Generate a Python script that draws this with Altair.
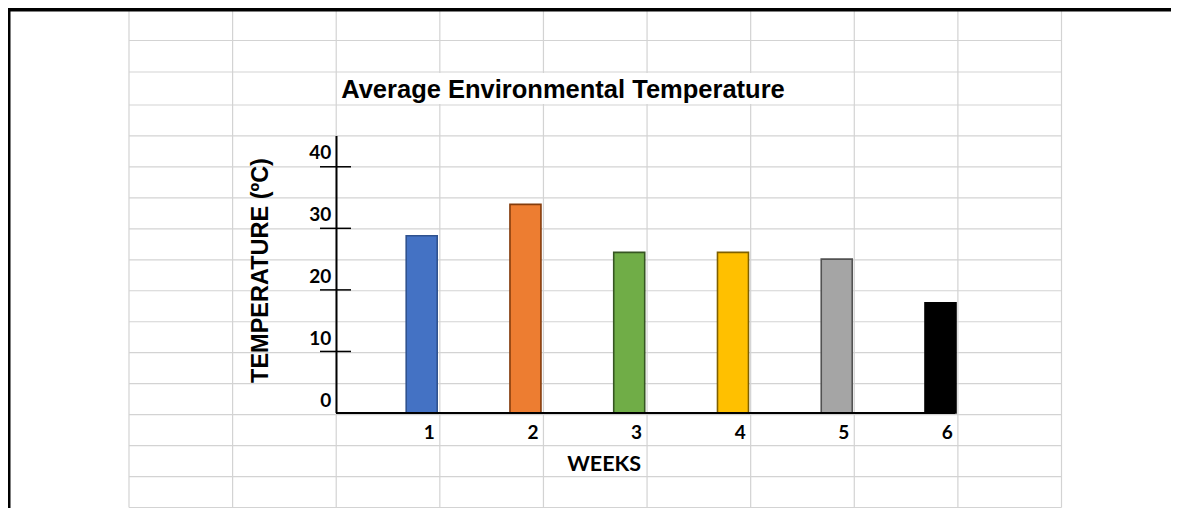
import altair as alt
import pandas as pd

# ---------------- data ----------------
weeks = [1, 2, 3, 4, 5, 6]
temps = [28.8, 33.9, 26.1, 26.1, 25.0, 17.9]
y_tick_values = [0, 10, 20, 30, 40]
title_text = "Average Environmental Temperature"
y_title_text = "TEMPERATURE  (ºC)"
x_title_text = "WEEKS"

# spreadsheet grid (column / row line indices)
grid_cols = list(range(10))
grid_rows = list(range(17))

# ---------------- styles ----------------
fill_colors = ["#4472C4", "#ED7D31", "#70AD47", "#FFC000", "#A5A5A5", "#000000"]
stroke_colors = ["#2F528F", "#843C0C", "#375623", "#7F6000", "#525252", "#000000"]
GRID = "#D3D3D3"
W, H = 1163, 500

col_scale = alt.Scale(domain=[0, 9], range=[121, 1053.5])
row_scale = alt.Scale(domain=[0, 2, 3, 16], range=[1, 64, 97, 499.5])
val_scale = alt.Scale(domain=[0, 45], range=[405, 128])
week_scale = alt.Scale(domain=[1, 6], range=[413.7, 932.5], padding=0, nice=False, zero=False)

bars_df = pd.DataFrame({"week": weeks, "temp": temps})
cols_df = pd.DataFrame({"c": grid_cols})
rows_df = pd.DataFrame({"r": grid_rows})

# ---------------- spreadsheet background ----------------
grid_v = alt.Chart(cols_df).mark_rule(color=GRID, strokeWidth=1.2).encode(
    x=alt.X("c:Q", scale=col_scale, axis=None),
    y=alt.value(1), y2=alt.value(499.5),
)
grid_h = alt.Chart(rows_df).mark_rule(color=GRID, strokeWidth=1.2).encode(
    y=alt.Y("r:Q", scale=row_scale, axis=None),
    x=alt.value(121), x2=alt.value(1053.5),
)
# title overflow hides the grid lines inside its row
title_bg = alt.Chart(pd.DataFrame({"c1": [2], "c2": [7], "r1": [2], "r2": [3]})).mark_rect(
    color="white", xOffset=1, x2Offset=-1, yOffset=1, y2Offset=-1
).encode(
    x=alt.X("c1:Q", scale=col_scale, axis=None), x2="c2",
    y=alt.Y("r1:Q", scale=row_scale, axis=None), y2="r2",
)
border_top = alt.Chart(pd.DataFrame({"a": [0]})).mark_rule(color="black", strokeWidth=4).encode(
    y=alt.value(1.5), x=alt.value(0), x2=alt.value(W)
)
border_left = alt.Chart(pd.DataFrame({"a": [0]})).mark_rule(color="black", strokeWidth=4).encode(
    x=alt.value(0.5), y=alt.value(0), y2=alt.value(H)
)

# ---------------- bars ----------------
bars = alt.Chart(bars_df).mark_bar(size=31, strokeWidth=1.6).encode(
    x=alt.X("week:Q", scale=week_scale, axis=None),
    y=alt.Y("temp:Q", scale=val_scale, axis=None),
    fill=alt.Fill("week:N", scale=alt.Scale(domain=weeks, range=fill_colors), legend=None),
    stroke=alt.Stroke("week:N", scale=alt.Scale(domain=weeks, range=stroke_colors), legend=None),
)

# ---------------- hand-drawn axes ----------------
y_axis_line = alt.Chart(pd.DataFrame({"lo": [0], "hi": [45]})).mark_rule(color="black", strokeWidth=2).encode(
    x=alt.value(328.5),
    y=alt.Y("lo:Q", scale=val_scale, axis=None), y2="hi",
)
x_axis_line = alt.Chart(pd.DataFrame({"v": [0]})).mark_rule(color="black", strokeWidth=2).encode(
    y=alt.Y("v:Q", scale=val_scale, axis=None),
    x=alt.value(328), x2=alt.value(947),
)
tick_df = pd.DataFrame({"v": [v for v in y_tick_values if v > 0]})
y_ticks = alt.Chart(tick_df).mark_rule(color="black", strokeWidth=1.5).encode(
    y=alt.Y("v:Q", scale=val_scale, axis=None),
    x=alt.value(312), x2=alt.value(343),
)

# ---------------- cell texts ----------------
title = alt.Chart(pd.DataFrame({"c": [2], "r": [3], "t": [title_text]})).mark_text(
    align="left", baseline="alphabetic", dx=5, dy=-6.7,
    font="Liberation Sans", fontWeight="bold", fontSize=25.5, color="black",
).encode(
    x=alt.X("c:Q", scale=col_scale, axis=None),
    y=alt.Y("r:Q", scale=row_scale, axis=None),
    text="t:N",
)

ylab_df = pd.DataFrame({"v": y_tick_values})
y_labels = alt.Chart(ylab_df).transform_calculate(
    r="13 - datum.v / 5", c="2", t="toString(datum.v)"
).mark_text(
    align="right", baseline="alphabetic", dx=-5, dy=-7.5,
    font="Lato", fontWeight="bold", fontSize=19, color="black",
).encode(
    x=alt.X("c:Q", scale=col_scale, axis=None),
    y=alt.Y("r:Q", scale=row_scale, axis=None),
    text="t:N",
)

x_labels = alt.Chart(bars_df).transform_calculate(
    c="datum.week + 2", r="14", t="toString(datum.week)"
).mark_text(
    align="right", baseline="alphabetic", dx=-5, dy=-6.7,
    font="Lato", fontWeight="bold", fontSize=19, color="black",
).encode(
    x=alt.X("c:Q", scale=col_scale, axis=None),
    y=alt.Y("r:Q", scale=row_scale, axis=None),
    text="t:N",
)

x_title = alt.Chart(pd.DataFrame({"c": [5], "r": [15], "t": [x_title_text]})).mark_text(
    align="right", baseline="alphabetic", dx=-6, dy=-5.5,
    font="Lato", fontWeight="bold", fontSize=21.5, color="black",
).encode(
    x=alt.X("c:Q", scale=col_scale, axis=None),
    y=alt.Y("r:Q", scale=row_scale, axis=None),
    text="t:N",
)

y_title = alt.Chart(pd.DataFrame({"t": [y_title_text]})).mark_text(
    align="center", baseline="alphabetic", angle=270,
    font="Liberation Sans", fontWeight="bold", fontSize=23.5, color="black",
).encode(
    x=alt.value(259.7), y=alt.value(262.5), text="t:N",
)

chart = alt.layer(
    grid_v, grid_h, title_bg,
    bars, x_axis_line, y_axis_line, y_ticks,
    title, y_labels, x_labels, x_title, y_title,
    border_top, border_left,
).resolve_scale(
    x="independent", y="independent", fill="independent", stroke="independent"
).properties(
    width=W, height=H,
    autosize=alt.AutoSizeParams(type="none"),
    padding=0,
).configure_view(stroke=None)

chart.save("out.html", embed_options={"renderer": "svg", "actions": False})
